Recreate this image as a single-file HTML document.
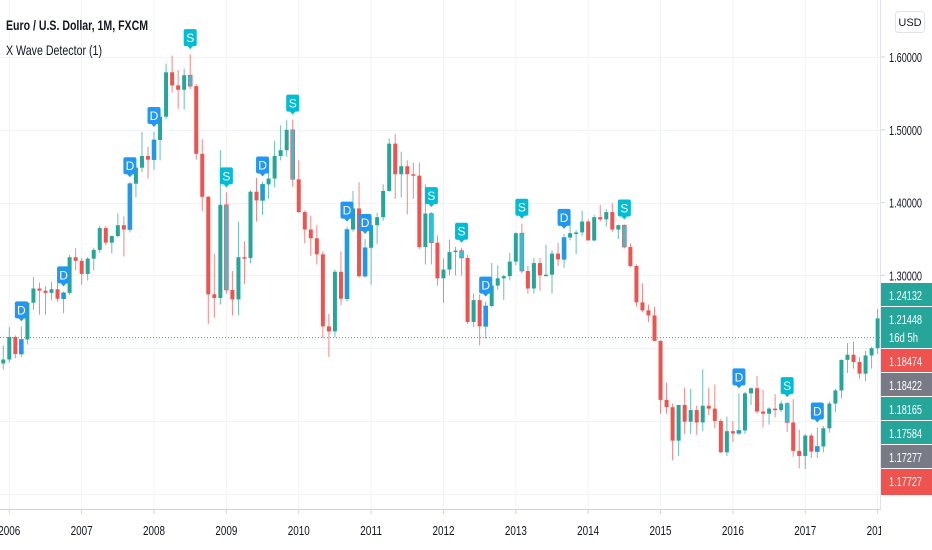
<!DOCTYPE html>
<html><head><meta charset="utf-8"><style>
html,body{margin:0;padding:0;background:#fff;width:932px;height:550px;overflow:hidden}
svg{display:block;font-family:"Liberation Sans",sans-serif}
</style></head><body>
<svg id="chart" width="932" height="550" viewBox="0 0 932 550" xmlns="http://www.w3.org/2000/svg">
<defs><clipPath id="plotClip"><rect x="0" y="0" width="881" height="509"/></clipPath></defs>
<g id="grid"></g>
<line id="lastLine" x1="0" x2="881" stroke="#26a69a" stroke-width="1" stroke-dasharray="1,2"/>
<g id="candles" clip-path="url(#plotClip)"></g>
<g id="markers" clip-path="url(#plotClip)"></g>
<text x="6" y="30" font-size="14" font-weight="bold" fill="#131722" textLength="142" lengthAdjust="spacingAndGlyphs">Euro / U.S. Dollar, 1M, FXCM</text>
<text x="6" y="55" font-size="14" fill="#131722" textLength="96" lengthAdjust="spacingAndGlyphs">X Wave Detector (1)</text>
<line x1="0" x2="881" y1="509.5" y2="509.5" stroke="#d1d4dc"/>
<g id="xaxis"></g>
<rect x="881" y="0" width="51" height="550" fill="#fff"/>
<line x1="880.5" x2="880.5" y1="0" y2="509" stroke="#e0e3eb"/>
<g id="yaxis"></g>
<g>
<rect x="895.5" y="11.5" width="29" height="21" rx="3" fill="#fff" stroke="#e0e3eb"/>
<text x="910" y="26" font-size="11" text-anchor="middle" fill="#131722">USD</text>
</g>
<g id="plabels"></g>
</svg>
<script>
const months = ["2005-12","2006-01","2006-02","2006-03","2006-04","2006-05","2006-06","2006-07","2006-08","2006-09","2006-10","2006-11","2006-12","2007-01","2007-02","2007-03","2007-04","2007-05","2007-06","2007-07","2007-08","2007-09","2007-10","2007-11","2007-12","2008-01","2008-02","2008-03","2008-04","2008-05","2008-06","2008-07","2008-08","2008-09","2008-10","2008-11","2008-12","2009-01","2009-02","2009-03","2009-04","2009-05","2009-06","2009-07","2009-08","2009-09","2009-10","2009-11","2009-12","2010-01","2010-02","2010-03","2010-04","2010-05","2010-06","2010-07","2010-08","2010-09","2010-10","2010-11","2010-12","2011-01","2011-02","2011-03","2011-04","2011-05","2011-06","2011-07","2011-08","2011-09","2011-10","2011-11","2011-12","2012-01","2012-02","2012-03","2012-04","2012-05","2012-06","2012-07","2012-08","2012-09","2012-10","2012-11","2012-12","2013-01","2013-02","2013-03","2013-04","2013-05","2013-06","2013-07","2013-08","2013-09","2013-10","2013-11","2013-12","2014-01","2014-02","2014-03","2014-04","2014-05","2014-06","2014-07","2014-08","2014-09","2014-10","2014-11","2014-12","2015-01","2015-02","2015-03","2015-04","2015-05","2015-06","2015-07","2015-08","2015-09","2015-10","2015-11","2015-12","2016-01","2016-02","2016-03","2016-04","2016-05","2016-06","2016-07","2016-08","2016-09","2016-10","2016-11","2016-12","2017-01","2017-02","2017-03","2017-04","2017-05","2017-06","2017-07","2017-08","2017-09","2017-10","2017-11","2017-12","2018-01"];
const opens = [1.1790,
1.1845,1.2155,1.1920,1.2120,1.2625,1.2820,1.2790,1.2760,1.2810,1.2680,1.2760,1.3250,
1.3200,1.3020,1.3230,1.3350,1.3650,1.3450,1.3540,1.3690,1.3630,1.4260,1.4480,1.4640,
1.4590,1.4860,1.5180,1.5790,1.5610,1.5550,1.5750,1.5600,1.4670,1.4080,1.2740,1.2690,
1.3970,1.2800,1.2670,1.3250,1.3240,1.4150,1.4030,1.4250,1.4330,1.4640,1.4720,1.5000,
1.4320,1.3870,1.3630,1.3510,1.3290,1.2300,1.2230,1.3050,1.2680,1.3630,1.3920,1.2990,
1.3380,1.3690,1.3800,1.4160,1.4810,1.4390,1.4500,1.4390,1.4370,1.3390,1.3850,1.3450,
1.2960,1.3080,1.3320,1.3340,1.3240,1.2360,1.2660,1.2300,1.2580,1.2860,1.2960,1.2990,
1.3190,1.3580,1.3060,1.2820,1.3170,1.3000,1.3010,1.3300,1.3220,1.3520,1.3580,1.3590,
1.3740,1.3480,1.3800,1.3770,1.3870,1.3630,1.3690,1.3390,1.3130,1.2630,1.2520,1.2450,
1.2100,1.1290,1.1190,1.0730,1.1220,1.0990,1.1150,1.0980,1.1210,1.1170,1.1000,1.0570,
1.0860,1.0830,1.0870,1.1380,1.1450,1.1130,1.1100,1.1170,1.1150,1.1240,1.0980,1.0590,
1.0520,1.0800,1.0580,1.0650,1.0900,1.1240,1.1420,1.1840,1.1910,1.1810,1.1650,1.1900,
1.2000];
const highs = [1.2040,
1.2290,1.2175,1.2300,1.2640,1.2980,1.2900,1.2850,1.2910,1.2900,1.2780,1.3280,1.3370,
1.3240,1.3250,1.3380,1.3680,1.3680,1.3550,1.3850,1.3810,1.4280,1.4500,1.4970,1.4770,
1.4970,1.5240,1.5910,1.6020,1.5820,1.5840,1.6040,1.5630,1.4870,1.4090,1.3300,1.4720,
1.4140,1.3060,1.3740,1.3470,1.4170,1.4340,1.4290,1.4450,1.4850,1.5060,1.5140,1.5140,
1.4580,1.3890,1.3820,1.3690,1.3330,1.2470,1.3080,1.3330,1.3670,1.4160,1.4280,1.3500,
1.3750,1.3860,1.4250,1.4880,1.4940,1.4700,1.4580,1.4550,1.4550,1.4250,1.3870,1.3550,
1.3230,1.3490,1.3390,1.3380,1.3280,1.2750,1.2740,1.2640,1.3170,1.3140,1.3010,1.3310,
1.3590,1.3710,1.3130,1.3240,1.3240,1.3420,1.3340,1.3450,1.3570,1.3830,1.3620,1.3890,
1.3770,1.3830,1.3970,1.3910,1.3990,1.3700,1.3700,1.3440,1.3150,1.2890,1.2600,1.2570,
1.2110,1.1530,1.1240,1.1220,1.1460,1.1440,1.1210,1.1710,1.1460,1.1500,1.1030,1.1060,
1.1000,1.1380,1.1400,1.1460,1.1620,1.1430,1.1190,1.1370,1.1280,1.1260,1.1300,1.0880,
1.0820,1.0830,1.0910,1.0930,1.1270,1.1440,1.1840,1.2070,1.2090,1.1880,1.1960,1.2020,
1.2540];
const lows = [1.1710,
1.1800,1.1860,1.1880,1.2050,1.2525,1.2460,1.2460,1.2660,1.2640,1.2480,1.2730,1.3070,
1.2870,1.2930,1.3070,1.3310,1.3410,1.3300,1.3520,1.3260,1.3590,1.4070,1.4420,1.4330,
1.4450,1.4580,1.5150,1.5510,1.5290,1.5280,1.5560,1.4590,1.3880,1.2330,1.2420,1.2600,
1.2750,1.2450,1.2450,1.2880,1.3170,1.3740,1.3830,1.4050,1.4210,1.4580,1.4630,1.4220,
1.3860,1.3440,1.3270,1.3150,1.2140,1.1880,1.2150,1.2590,1.2640,1.3600,1.2970,1.2970,
1.2870,1.3430,1.3750,1.4150,1.4050,1.4070,1.3840,1.4050,1.3360,1.3150,1.3150,1.2860,
1.2620,1.3000,1.3000,1.3000,1.2330,1.2290,1.2040,1.2130,1.2560,1.2800,1.2660,1.2930,
1.3140,1.3030,1.2750,1.2750,1.2790,1.2990,1.2750,1.3130,1.3100,1.3480,1.3290,1.3540,
1.3480,1.3470,1.3740,1.3670,1.3600,1.3500,1.3370,1.3110,1.2570,1.2500,1.2360,1.2100,
1.1100,1.1100,1.0460,1.0520,1.0820,1.0820,1.0810,1.0860,1.1080,1.0900,1.0560,1.0520,
1.0710,1.0810,1.0820,1.1220,1.1100,1.0910,1.0950,1.1050,1.1120,1.0850,1.0510,1.0350,
1.0340,1.0490,1.0490,1.0570,1.0840,1.1120,1.1310,1.1660,1.1720,1.1580,1.1550,1.1720,
1.1920];
const closes = [1.1845,
1.2155,1.1920,1.2120,1.2625,1.2820,1.2790,1.2760,1.2810,1.2680,1.2760,1.3250,1.3200,
1.3020,1.3230,1.3350,1.3650,1.3450,1.3540,1.3690,1.3630,1.4260,1.4480,1.4640,1.4590,
1.4860,1.5180,1.5790,1.5610,1.5550,1.5750,1.5600,1.4670,1.4080,1.2740,1.2690,1.3970,
1.2800,1.2670,1.3250,1.3240,1.4150,1.4030,1.4250,1.4330,1.4640,1.4720,1.5000,1.4320,
1.3870,1.3630,1.3510,1.3290,1.2300,1.2230,1.3050,1.2680,1.3630,1.3920,1.2990,1.3380,
1.3690,1.3800,1.4160,1.4810,1.4390,1.4500,1.4390,1.4370,1.3390,1.3850,1.3450,1.2960,
1.3080,1.3320,1.3340,1.3240,1.2360,1.2660,1.2300,1.2580,1.2860,1.2960,1.2990,1.3190,
1.3580,1.3060,1.2820,1.3170,1.3000,1.3010,1.3300,1.3220,1.3520,1.3580,1.3590,1.3740,
1.3480,1.3800,1.3770,1.3870,1.3630,1.3690,1.3390,1.3130,1.2630,1.2520,1.2450,1.2100,
1.1290,1.1190,1.0730,1.1220,1.0990,1.1150,1.0980,1.1210,1.1170,1.1000,1.0570,1.0860,
1.0830,1.0870,1.1380,1.1450,1.1130,1.1100,1.1170,1.1150,1.1240,1.0980,1.0590,1.0520,
1.0800,1.0580,1.0650,1.0900,1.1240,1.1420,1.1840,1.1910,1.1810,1.1650,1.1900,1.2000,
1.2410];
const markerMonths = ["2006-03","2006-10","2007-09","2008-01","2008-07","2009-01","2009-07","2009-12","2010-09","2010-12","2011-11","2012-04","2012-08","2013-02","2013-09","2014-07","2016-02","2016-10","2017-03"];
const markerTypes  = ["D","D","D","D","S","S","D","S","D","D","S","S","D","S","D","S","D","S","D"];
const yTicks = [1.6,1.5,1.4,1.3,1.2,1.1,1.0];
const yTickLabels = ["1.60000","1.50000","1.40000","1.30000"];
const years = ["2006","2007","2008","2009","2010","2011","2012","2013","2014","2015","2016","2017","2018"];
const lastPrice = 1.21448;
const priceLabels = ["1.24132","1.21448","1.18474","1.18422","1.18165","1.17584","1.17277","1.17727"];
const priceLabelKinds = ["up","up","down","neutral","up","up","neutral","down"];

const NS="http://www.w3.org/2000/svg";
const X0=9.3, DX=6.03;
function xOf(m){const [y,mo]=m.split("-").map(Number);return X0+((y-2006)*12+(mo-1))*DX;}
function yOf(p){return 57+(1.6-p)*728;}
function mk(tag,parent){const e=document.createElementNS(NS,tag);parent.appendChild(e);return e;}

const grid=document.getElementById("grid");
yTicks.forEach(v=>{const l=mk("line",grid);


l.setAttribute("x1",0);l.setAttribute("x2",881);l.setAttribute("y1",Math.round(yOf(v))+0.5);l.setAttribute("y2",Math.round(yOf(v))+0.5);l.setAttribute("stroke","#f0f3fa");});
const xa=document.getElementById("xaxis");
years.forEach(yr=>{const x=xOf(yr+"-01");
const l=mk("line",grid);


l.setAttribute("x1",x);l.setAttribute("x2",x);l.setAttribute("y1",0);l.setAttribute("y2",509);l.setAttribute("stroke","#f0f3fa");
const t=mk("line",xa);


t.setAttribute("x1",x);t.setAttribute("x2",x);t.setAttribute("y1",509);t.setAttribute("y2",514);t.setAttribute("stroke","#d1d4dc");
const tx=mk("text",xa);


tx.setAttribute("x",x);tx.setAttribute("y",535);tx.setAttribute("text-anchor","middle");tx.setAttribute("font-size","13");tx.setAttribute("fill","#131722");tx.setAttribute("textLength","22");tx.setAttribute("lengthAdjust","spacingAndGlyphs");tx.textContent=yr;});

const ll=document.getElementById("lastLine");ll.setAttribute("y1",yOf(lastPrice));ll.setAttribute("y2",yOf(lastPrice));

const cg=document.getElementById("candles");
months.forEach((m,i)=>{
  const x=xOf(m),o=opens[i],c=closes[i];
  const mi=markerMonths.indexOf(m);
  let col=c>=o?"#26a69a":"#ef5350";
  if(mi>=0) col=markerTypes[mi]==="D"?"#2196f3":"#26c6da";
  const w=mk("line",cg);
  
  
  w.setAttribute("x1",x);w.setAttribute("x2",x);w.setAttribute("y1",yOf(highs[i]));w.setAttribute("y2",yOf(lows[i]));w.setAttribute("stroke",c>=o?"#26a69a":"#ef5350");w.setAttribute("stroke-opacity","0.7");
  const b=mk("rect",cg);
  
  
  const yt=yOf(Math.max(o,c)),yb=yOf(Math.min(o,c));
  b.setAttribute("x",x-2);b.setAttribute("width",4);b.setAttribute("y",yt);b.setAttribute("height",Math.max(1.5,yb-yt));b.setAttribute("fill",col);
  if(mi>=0){b.setAttribute("stroke",c>=o?"#26a69a":"#ef5350");b.setAttribute("stroke-width","0.6");}
});

const mg=document.getElementById("markers");
markerMonths.forEach((m,k)=>{
  const i=months.indexOf(m);if(i<0)return;
  const x=xOf(m),yb=yOf(highs[i])-7;
  const col=markerTypes[k]==="D"?"#2196f3":"#00bcd4";
  const g=mk("g",mg);
  
  
  const r=mk("rect",g);r.setAttribute("x",x-6.5);r.setAttribute("y",yb-18);r.setAttribute("width",13);r.setAttribute("height",17);r.setAttribute("rx",2);r.setAttribute("fill",col);
  const p=mk("path",g);p.setAttribute("d",`M${x-3} ${yb-1.5}L${x} ${yb+2}L${x+3} ${yb-1.5}Z`);p.setAttribute("fill",col);
  const t=mk("text",g);t.setAttribute("x",x);t.setAttribute("y",yb-5);t.setAttribute("text-anchor","middle");t.setAttribute("font-size","12");t.setAttribute("fill","#fff");t.textContent=markerTypes[k];
});

const ya=document.getElementById("yaxis");
yTickLabels.forEach((lab,k)=>{const y=yOf(yTicks[k]);
const t=mk("line",ya);


t.setAttribute("x1",881);t.setAttribute("x2",885);t.setAttribute("y1",y);t.setAttribute("y2",y);t.setAttribute("stroke","#d1d4dc");
const tx=mk("text",ya);


tx.setAttribute("x",889);tx.setAttribute("y",y+5);tx.setAttribute("font-size","13");tx.setAttribute("fill","#131722");tx.setAttribute("textLength","33");tx.setAttribute("lengthAdjust","spacingAndGlyphs");tx.textContent=lab;});

const pl=document.getElementById("plabels");
const kindCol={up:"#26a69a",down:"#ef5350",neutral:"#787b86"};
const boxTops=[283,307,349,373,397,421,445,469];
const boxH=[24,42,24,24,24,24,24,26];
priceLabels.forEach((lab,k)=>{
  const g=mk("g",pl);
  
  
  const r=mk("rect",g);r.setAttribute("x",881);r.setAttribute("y",boxTops[k]);r.setAttribute("width",51);r.setAttribute("height",boxH[k]);r.setAttribute("fill",kindCol[priceLabelKinds[k]]);
  if(k<7){const s=mk("line",g);s.setAttribute("x1",881);s.setAttribute("x2",932);s.setAttribute("y1",boxTops[k]+boxH[k]-0.5);s.setAttribute("y2",boxTops[k]+boxH[k]-0.5);s.setAttribute("stroke","#fff");s.setAttribute("stroke-width","1");}
  const t=mk("text",g);t.setAttribute("x",889);t.setAttribute("y",boxTops[k]+17);t.setAttribute("font-size","13");t.setAttribute("fill","#fff");t.setAttribute("textLength","33");t.setAttribute("lengthAdjust","spacingAndGlyphs");t.textContent=lab;
  if(k===1){const t2=mk("text",g);t2.setAttribute("x",889);t2.setAttribute("y",boxTops[k]+35);t2.setAttribute("font-size","13");t2.setAttribute("fill","#fff");t2.setAttribute("textLength","29");t2.setAttribute("lengthAdjust","spacingAndGlyphs");t2.textContent="16d 5h";}
});
const cover=mk("rect",pl);


cover.setAttribute("x",881);cover.setAttribute("y",495);cover.setAttribute("width",51);cover.setAttribute("height",55);cover.setAttribute("fill","#fff");
</script>
</body></html>
